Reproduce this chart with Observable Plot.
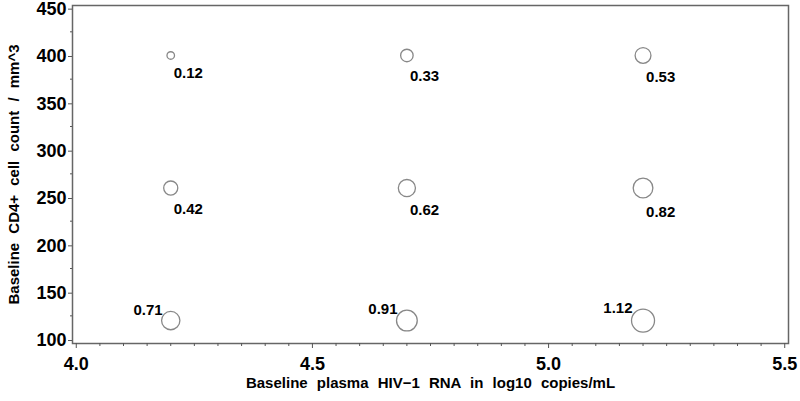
<!DOCTYPE html>
<html>
<head>
<meta charset="utf-8">
<script src="https://cdn.jsdelivr.net/npm/d3@7"></script>
<script src="https://cdn.jsdelivr.net/npm/@observablehq/plot@0.6"></script>
<style>
  html, body { margin: 0; padding: 0; background: #fff; }
  #chart svg { display: block; overflow: visible; }
</style>
</head>
<body>
<div id="chart"></div>
<script>
// Data
const rnaLevels = [4.2, 4.7, 5.2];              // log10 copies/mL
const cd4Levels = [400, 260, 120];              // cells / mm^3
const rowValues = [                             // value per (cd4 row, rna column)
  [0.12, 0.33, 0.53],
  [0.42, 0.62, 0.82],
  [0.71, 0.91, 1.12]
];
const xTicks = [4.0, 4.5, 5.0, 5.5];
const yTicks = [100, 150, 200, 250, 300, 350, 400, 450];
const xLabel = "Baseline plasma HIV\u22121 RNA in log10 copies/mL";
const yLabel = "Baseline CD4+ cell count / mm^3";

const points = [];
cd4Levels.forEach((cd4, i) => rnaLevels.forEach((rna, j) =>
  points.push({rna, cd4, v: rowValues[i][j], row: i})));

const rMax = 11.5;
const vMax = d3.max(points, d => d.v);
const rScale = d3.scaleSqrt().domain([0, vMax]).range([0, rMax]);

const xMinor = d3.range(4.0, 5.5001, 0.05).map(d => +d.toFixed(2)).filter(d => !xTicks.includes(d));
const yMinor = d3.range(100, 451, 25).filter(d => !yTicks.includes(d));

const font = "'Liberation Sans', Arial, Helvetica, sans-serif";
const narrow = "'Liberation Sans Narrow', 'Arial Narrow', 'Liberation Sans', sans-serif";

const labelMarks = points.map(p => {
  const r = rScale(p.v);
  const below = p.row < 2;
  return Plot.text([p], {
    x: "rna", y: "cd4", text: d => d.v.toFixed(2),
    textAnchor: below ? "start" : "end",
    dx: below ? 3 : -(r - 1),
    dy: below ? r + 14 : -(r + 1),
    fontSize: 15, fontWeight: "bold", fill: "#000"
  });
});

const chart = Plot.plot({
  width: 800,
  height: 401,
  marginLeft: 72,
  marginRight: 12,
  marginTop: 5,
  marginBottom: 58,
  style: {fontFamily: font, background: "#fff", overflow: "visible"},
  x: {domain: [3.992, 5.508]},
  y: {domain: [95.8, 452.8]},
  r: {type: "sqrt", domain: [0, vMax], range: [0, rMax]},
  marks: [
    Plot.frame({stroke: "#666", strokeWidth: 1.5}),
    Plot.axisX({ticks: xMinor, tickSize: 3, text: null, label: null, stroke: "#555"}),
    Plot.axisX({ticks: xTicks, tickSize: 5, tickPadding: 9, tickFormat: d3.format(".1f"),
      fontFamily: narrow, fontSize: 18, fontWeight: "bold", label: null, stroke: "#555"}),
    Plot.axisY({ticks: yMinor, tickSize: 2, text: null, label: null, stroke: "#555"}),
    Plot.axisY({ticks: yTicks, tickSize: 4, tickPadding: 2, dy: 1,
      fontFamily: narrow, fontSize: 18, fontWeight: "bold", label: null, stroke: "#555"}),
    Plot.text([xLabel], {frameAnchor: "bottom", dy: 40, fontSize: 15, fontWeight: "bold",
      fill: "#000", lineAnchor: "middle", textAnchor: "middle"}),
    Plot.text([yLabel], {frameAnchor: "left", dx: -58, rotate: -90, fontSize: 15, fontWeight: "bold",
      fill: "#000", textAnchor: "middle", lineAnchor: "middle"}),
    Plot.dot(points, {x: "rna", y: "cd4", r: "v", stroke: "#888", strokeWidth: 1.3, fill: "none"}),
    ...labelMarks
  ]
});
chart.querySelectorAll("text").forEach(t => {
  const s = t.textContent;
  if (s === xLabel || s === yLabel) t.style.wordSpacing = "5px";
});
document.getElementById("chart").appendChild(chart);
</script>
</body>
</html>
